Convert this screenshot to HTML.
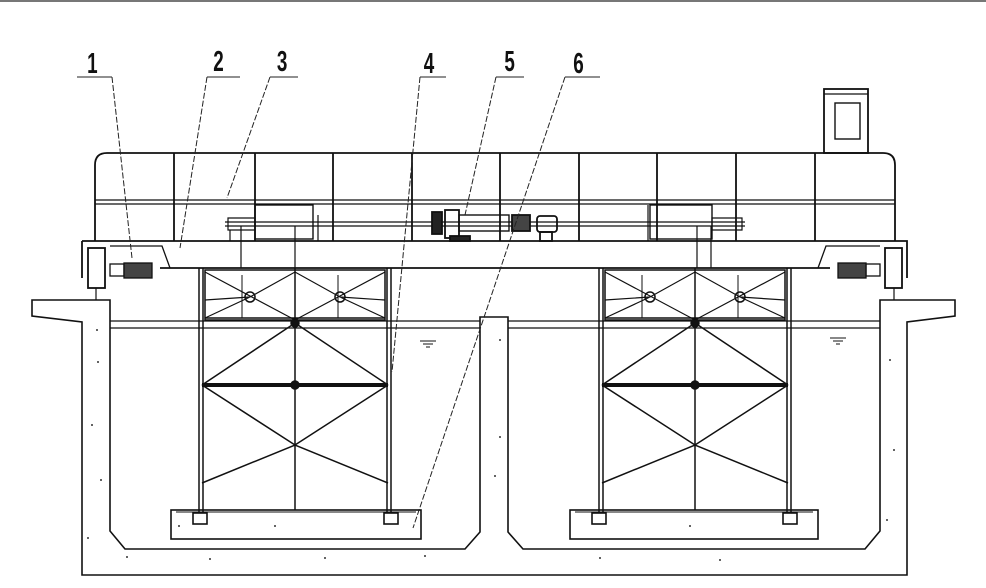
<!DOCTYPE html>
<html><head><meta charset="utf-8"><style>
html,body{margin:0;padding:0;background:#fff;width:986px;height:588px;overflow:hidden}
svg{display:block}
text{font-family:"Liberation Sans",sans-serif;font-weight:bold;font-size:29px;fill:#111}
</style></head><body>
<svg width="986" height="588" viewBox="0 0 986 588" xmlns="http://www.w3.org/2000/svg">
<rect x="0" y="0" width="986" height="2" fill="#777"/>
<g stroke="#111" fill="none" stroke-width="1.6">
<path d="M32,300 H110 V531 L125,549 H465 L480,532 V317 H508 V532 L523,549 H865 L880,531 V300 H955 V316 L907,322 V575 H82 V322 L32,316 Z"/>
<path d="M110,321 H480 M110,328 H480 M508,321 H880 M508,328 H880" stroke-width="1.2"/>
<path d="M420,341 H436 M423,344 H433 M426,347 H430 M830,338 H846 M833,341 H843 M836,344 H840" stroke-width="1"/>
<rect x="171" y="510" width="250" height="29"/>
<rect x="570" y="510" width="248" height="29"/>
<path d="M176,512 H416 M575,512 H813" stroke-width="1"/>
<rect x="193" y="513" width="14" height="11"/><rect x="384" y="513" width="14" height="11"/>
<rect x="592" y="513" width="14" height="11"/><rect x="783" y="513" width="14" height="11"/>
</g>
<g stroke="#111" fill="none" stroke-width="1.5">
<g id="fr">
<path d="M199,268 V512 M203,268 V512 M387,268 V512 M391,268 V512"/>
<rect x="205" y="270" width="180" height="50"/>
<path d="M205,318 H385"/>
<path d="M295,268 V510"/>
<path d="M205,272 L295,320 L385,272 M205,318 L250,297 L295,272 L340,297 L385,318 M205,300 L250,297 M340,297 L385,300" stroke-width="1.2"/>
<circle cx="250" cy="297" r="5"/><circle cx="340" cy="297" r="5"/>
<path d="M242,275 V318 M338,275 V318" stroke-width="1"/>
<path d="M202,385 H388" stroke-width="4"/>
<path d="M202,385 L295,323 L388,385 M202,385 L295,445 L388,385 M202,483 L295,445 L388,483" stroke-width="1.5"/>
<circle cx="295" cy="323" r="4" fill="#111"/><circle cx="295" cy="385" r="4" fill="#111"/>
</g>
<use href="#fr" transform="translate(400,0)"/>
</g>
<g stroke="#111" fill="none" stroke-width="1.8">
<path d="M95,241 V165 Q95,153 107,153 H883 Q895,153 895,165 V241"/>
<path d="M95,200 H895 M95,204 H895" stroke-width="1.2"/>
<path d="M174,153 V241 M255,153 V241 M333,153 V241 M412,153 V241 M500,153 V241 M579,153 V241 M657,153 V241 M736,153 V241 M815,153 V241"/>
<rect x="824" y="89" width="44" height="64"/>
<path d="M824,94 H868" stroke-width="1.2"/>
<rect x="835" y="103" width="25" height="36" stroke-width="1.4"/>
<path d="M82,241 H907 V278 M82,241 V278 M160,268 H830"/>
<path d="M110,246 H162 L170,268 M880,246 H826 L818,268" stroke-width="1.3"/>
<rect x="88" y="248" width="17" height="40"/><rect x="885" y="248" width="17" height="40"/>
<path d="M96,288 V300 M894,288 V300" stroke-width="1.2"/>
<rect x="110" y="264" width="14" height="12" stroke-width="1.3"/><rect x="124" y="263" width="28" height="15" fill="#444" stroke-width="1.3"/>
<rect x="866" y="264" width="14" height="12" stroke-width="1.3"/><rect x="838" y="263" width="28" height="15" fill="#444" stroke-width="1.3"/>
<path d="M225,222 H745 M225,226 H745" stroke-width="1.3"/>
<rect x="255" y="205" width="58" height="34" stroke-width="1.4"/>
<rect x="650" y="205" width="62" height="34" stroke-width="1.4"/>
<path d="M228,218 H255 V230 H228 Z M712,218 H742 V230 H712 Z" stroke-width="1.2"/>
<path d="M241,226 V268 M295,226 V268 M697,226 V268 M711,226 V268 M230,230 V241 M318,215 V241 M648,205 V241" stroke-width="1.2"/>
<rect x="432" y="212" width="10" height="22" fill="#222"/>
<rect x="445" y="210" width="14" height="28"/>
<rect x="459" y="215" width="50" height="16" stroke-width="1.4"/>
<rect x="512" y="215" width="18" height="16" fill="#444"/>
<rect x="537" y="216" width="20" height="16" rx="3"/>
<rect x="450" y="236" width="20" height="5" fill="#222"/>
<rect x="540" y="232" width="12" height="9"/>
</g>
<g stroke="#222" stroke-width="1" fill="none">
<path d="M77,77 H112 M207,77 H240 M270,77 H298 M420,77 H446 M496,77 H524 M565,77 H600"/>
<path d="M112,77 L132,258 M207,77 L180,248 M270,77 L227,198 M420,77 L392,372 M496,77 L465,215 M565,77 L413,528" stroke-dasharray="6,2"/>
</g>
<g transform="scale(0.65,1)">
<text x="134" y="73">1</text><text x="328" y="71">2</text><text x="426" y="71">3</text>
<text x="652" y="73">4</text><text x="776" y="71">5</text><text x="882" y="73">6</text>
</g>
<g fill="#333">
<circle cx="97" cy="330" r="1"/><circle cx="98" cy="362" r="1"/><circle cx="92" cy="425" r="1"/><circle cx="101" cy="480" r="1"/><circle cx="88" cy="538" r="1"/><circle cx="127" cy="557" r="1"/><circle cx="210" cy="559" r="1"/><circle cx="325" cy="558" r="1"/><circle cx="425" cy="556" r="1"/><circle cx="500" cy="340" r="1"/><circle cx="500" cy="437" r="1"/><circle cx="495" cy="476" r="1"/><circle cx="600" cy="558" r="1"/><circle cx="720" cy="560" r="1"/><circle cx="890" cy="360" r="1"/><circle cx="894" cy="450" r="1"/><circle cx="887" cy="520" r="1"/><circle cx="275" cy="526" r="1"/><circle cx="179" cy="526" r="1"/><circle cx="690" cy="526" r="1"/>
</g>
</svg>
</body></html>
